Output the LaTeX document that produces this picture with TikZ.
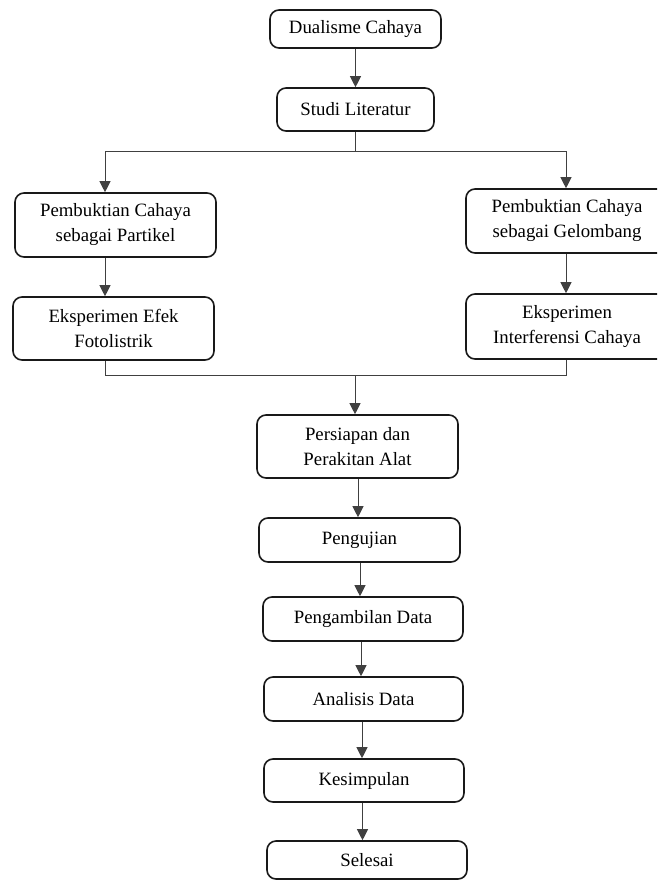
\documentclass[tikz,border=0pt]{standalone}
\usepackage{fontspec}
\setmainfont{Liberation Serif}
\usetikzlibrary{arrows.meta}
\begin{document}
\begin{tikzpicture}[x=1pt,y=1pt,
  box/.style={draw=black!90,line width=1.6pt,rounded corners=9pt,align=center,inner sep=0pt,
    font=\fontsize{18.8}{25}\selectfont},
  conn/.style={draw=black!75,line width=0.9pt},
  arr/.style={conn,-{Triangle[length=11pt,width=11pt]}}]
\useasboundingbox (0,0) rectangle (657,-881);
\fill[white] (0,0) rectangle (657,-881);
\begin{scope}
\clip (0,0) rectangle (657,-881);
\node[box,minimum width=171pt,minimum height=38pt] (d1) at (355.5,-29) {Dualisme Cahaya};
\node[box,minimum width=157pt,minimum height=43pt] (d2) at (355.5,-109.5) {Studi Literatur};
\node[box,minimum width=201pt,minimum height=64pt] (p1) at (115.5,-225) {Pembuktian Cahaya\\sebagai Partikel};
\node[box,minimum width=202pt,minimum height=64pt] (p2) at (567,-221) {Pembuktian Cahaya\\sebagai Gelombang};
\node[box,minimum width=201pt,minimum height=63pt] (e1) at (113.5,-328.5) {Eksperimen Efek\\Fotolistrik};
\node[box,minimum width=202pt,minimum height=65pt] (e2) at (567,-326.5) {Eksperimen\\Interferensi Cahaya};
\node[box,minimum width=201pt,minimum height=63pt] (s1) at (357.5,-446.5) {Persiapan dan\\Perakitan Alat};
\node[box,minimum width=201pt,minimum height=44pt] (s2) at (359.5,-540) {Pengujian};
\node[box,minimum width=200pt,minimum height=44pt] (s3) at (363,-619) {Pengambilan Data};
\node[box,minimum width=199pt,minimum height=44pt] (s4) at (363.5,-699) {Analisis Data};
\node[box,minimum width=200pt,minimum height=43pt] (s5) at (364,-780.5) {Kesimpulan};
\node[box,minimum width=200pt,minimum height=38pt] (s6) at (367,-860) {Selesai};
\end{scope}
\coordinate (bl) at (105,-151);
\coordinate (br) at (566,-151);
\coordinate (ml) at (105,-375);
\coordinate (mr) at (566,-375);
\coordinate (mc) at (355,-375);
\draw[arr] (d1.south) -- (d1.south |- d2.north);
\draw[conn] (d2.south) -- (d2.south |- bl);
\draw[conn] (bl) -- (br);
\draw[arr] (bl) -- (bl |- p1.north);
\draw[arr] (br) -- (br |- p2.north);
\draw[arr] (bl |- p1.south) -- (bl |- e1.north);
\draw[arr] (br |- p2.south) -- (br |- e2.north);
\draw[conn] (ml |- e1.south) -- (ml) -- (mr) -- (mr |- e2.south);
\draw[arr] (mc) -- (mc |- s1.north);
\draw[arr] ([xshift=0.5pt]s1.south) -- ([xshift=0.5pt]s1.south |- s2.north);
\draw[arr] ([xshift=0.5pt]s2.south) -- ([xshift=0.5pt]s2.south |- s3.north);
\draw[arr] ([xshift=-2pt]s3.south) -- ([xshift=-2pt]s3.south |- s4.north);
\draw[arr] ([xshift=-1.5pt]s4.south) -- ([xshift=-1.5pt]s4.south |- s5.north);
\draw[arr] ([xshift=-1.5pt]s5.south) -- ([xshift=-1.5pt]s5.south |- s6.north);
\end{tikzpicture}
\end{document}
